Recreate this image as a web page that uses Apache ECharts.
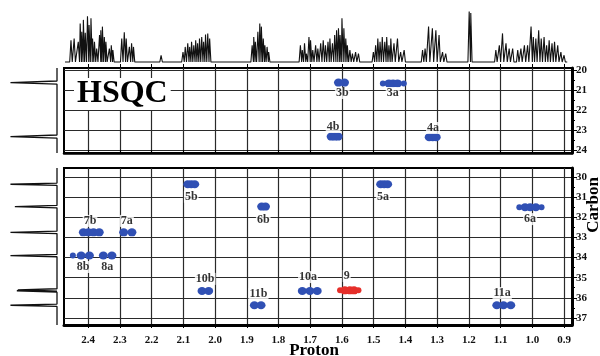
<!DOCTYPE html>
<html>
<head>
<meta charset="utf-8">
<script src="https://cdn.jsdelivr.net/npm/echarts@6/dist/echarts.min.js"></script>
<style>
  html, body { margin: 0; padding: 0; background: #fff; }
  #chart { width: 600px; height: 356px; }
</style>
</head>
<body>
<div id="chart"></div>
<script>
// tick labels
const protonTicks = [2.4, 2.3, 2.2, 2.1, 2.0, 1.9, 1.8, 1.7, 1.6, 1.5, 1.4, 1.3, 1.2, 1.1, 1.0, 0.9];
const carbonTicksTop = [20, 21, 22, 23, 24];
const carbonTicksBottom = [30, 31, 32, 33, 34, 35, 36, 37];
const carbonMinorTop = [20.5, 21.5, 22.5, 23.5];
const carbonMinorBottom = [30.5, 31.5, 32.5, 33.5, 34.5, 35.5, 36.5];

// 1D proton spectrum: [ppm, relative height]
const protonPeaks = [
  [2.454, 0.42], [2.444, 0.45], [2.431, 0.39], [2.425, 0.74], [2.420, 0.58], [2.415, 0.81],
  [2.409, 0.56], [2.402, 0.88], [2.397, 0.71], [2.391, 0.84], [2.386, 0.45], [2.380, 0.39],
  [2.373, 0.26], [2.364, 0.52], [2.360, 0.61], [2.355, 0.68], [2.349, 0.48], [2.344, 0.39],
  [2.333, 0.26], [2.327, 0.32], [2.322, 0.23], [2.294, 0.45], [2.286, 0.57], [2.280, 0.45],
  [2.270, 0.29], [2.263, 0.36], [2.257, 0.29], [2.170, 0.13], [2.101, 0.19], [2.094, 0.29],
  [2.086, 0.36], [2.080, 0.29], [2.074, 0.39], [2.067, 0.32], [2.061, 0.42], [2.055, 0.36],
  [2.049, 0.45], [2.042, 0.48], [2.036, 0.39], [2.030, 0.53], [2.023, 0.55], [2.017, 0.45],
  [1.883, 0.32], [1.878, 0.48], [1.873, 0.39], [1.865, 0.58], [1.859, 0.74], [1.854, 0.68],
  [1.848, 0.45], [1.843, 0.32], [1.836, 0.29], [1.831, 0.19],
  [1.731, 0.32], [1.725, 0.23], [1.718, 0.36], [1.712, 0.16], [1.704, 0.48], [1.699, 0.42],
  [1.692, 0.23], [1.683, 0.32], [1.676, 0.26], [1.667, 0.36], [1.659, 0.42], [1.652, 0.32],
  [1.644, 0.39], [1.638, 0.45], [1.630, 0.36], [1.623, 0.52], [1.617, 0.61], [1.611, 0.65],
  [1.606, 0.52], [1.600, 0.84], [1.594, 0.65], [1.588, 0.45], [1.583, 0.32], [1.575, 0.23],
  [1.567, 0.16], [1.557, 0.19], [1.548, 0.16],
  [1.501, 0.19], [1.494, 0.32], [1.487, 0.45], [1.480, 0.39], [1.473, 0.48], [1.465, 0.39],
  [1.459, 0.48], [1.452, 0.32], [1.446, 0.45], [1.436, 0.36], [1.425, 0.45], [1.415, 0.19],
  [1.404, 0.23],
  [1.346, 0.23], [1.338, 0.26], [1.327, 0.68], [1.315, 0.65], [1.304, 0.61], [1.294, 0.52],
  [1.283, 0.19], [1.273, 0.16],
  [1.199, 0.97], [1.194, 0.94],
  [1.115, 0.23], [1.104, 0.32], [1.094, 0.55], [1.083, 0.36], [1.073, 0.26], [1.062, 0.26],
  [1.046, 0.23], [1.036, 0.26], [1.025, 0.32], [1.015, 0.32], [1.004, 0.68], [0.997, 0.48],
  [0.989, 0.45], [0.980, 0.61], [0.972, 0.45], [0.963, 0.48], [0.955, 0.32], [0.947, 0.42],
  [0.938, 0.36], [0.930, 0.39], [0.920, 0.32], [0.910, 0.19], [0.900, 0.13]
];

// 1D carbon projection: [ppm, relative height]
const carbonPeaks = [
  [20.63, 0.95], [23.33, 0.95],
  [30.36, 0.95], [31.47, 0.86], [32.75, 0.95], [33.90, 0.95],
  [35.61, 0.80], [35.66, 0.82], [36.37, 0.95]
];

// cross peaks: [proton ppm, carbon ppm]
const blueDots = [
  [1.611, 20.63], [1.592, 20.63],
  [1.452, 20.67], [1.439, 20.67], [1.425, 20.67],
  [1.634, 23.33], [1.623, 23.33], [1.612, 23.33],
  [1.325, 23.36], [1.314, 23.36], [1.303, 23.36],
  [2.086, 30.36], [2.075, 30.36], [2.064, 30.36],
  [1.478, 30.36], [1.467, 30.36], [1.456, 30.36],
  [1.853, 31.47], [1.841, 31.47],
  [1.023, 31.50], [1.007, 31.50], [0.989, 31.50],
  [2.415, 32.75], [2.399, 32.75], [2.383, 32.75], [2.365, 32.75],
  [2.288, 32.75], [2.262, 32.75],
  [2.422, 33.90], [2.396, 33.90],
  [2.352, 33.90], [2.325, 33.90],
  [2.041, 35.66], [2.020, 35.66],
  [1.876, 36.37], [1.855, 36.37],
  [1.725, 35.66], [1.701, 35.66], [1.678, 35.66],
  [1.112, 36.37], [1.091, 36.37], [1.068, 36.37]
];
const blueSmallDots = [
  [1.471, 20.67], [1.405, 20.67], [1.041, 31.50], [0.971, 31.50], [2.448, 33.90]
];
const redDots = [[1.591, 35.63], [1.575, 35.63], [1.562, 35.63]];
const redSmallDots = [[1.606, 35.63], [1.548, 35.63]];

// assignments: [proton ppm, carbon ppm, text]
const peakLabels = [
  [1.599, 21.15, '3b'], [1.440, 21.15, '3a'], [1.628, 22.85, '4b'], [1.313, 22.90, '4a'],
  [2.075, 30.98, '5b'], [1.471, 30.98, '5a'], [1.848, 32.13, '6b'], [1.007, 32.09, '6a'],
  [2.394, 32.18, '7b'], [2.278, 32.18, '7a'], [2.416, 34.47, '8b'], [2.340, 34.47, '8a'],
  [2.031, 35.06, '10b'], [1.707, 34.97, '10a'], [1.585, 34.92, '9'],
  [1.863, 35.81, '11b'], [1.095, 35.76, '11a']
];

const serif = '"Liberation Serif", "DejaVu Serif", serif';
const blue = '#3050b4';
const red = '#e62f2a';

const isTop = p => p[1] < 27;
const isBottom = p => p[1] >= 27;

function spectrumLine(peaks, hw) {
  const pts = [[2.473, 0]];
  peaks.forEach(([pos, h]) => {
    pts.push([pos + hw, 0], [pos, h], [pos - hw, 0]);
  });
  pts.push([0.89, 0]);
  return pts;
}

function projectionLine(peaks, hw, from, to) {
  const pts = [[0, from]];
  peaks.filter(p => p[0] > from && p[0] < to).forEach(([pos, h]) => {
    pts.push([0, pos - hw], [h, pos], [0, pos + hw]);
  });
  pts.push([0, to]);
  return pts;
}

const chart = echarts.init(document.getElementById('chart'));

const gridLine = { show: true, lineStyle: { color: '#2a2a2a', width: 1.2 } };
const tickFont = { fontFamily: serif, fontWeight: 'bold', fontSize: 11, color: '#111' };

const protonRange = { min: 0.875, max: 2.476, inverse: true };
const topRange = { min: 19.9, max: 24.15, inverse: true };
const bottomRange = { min: 29.553, max: 37.35, inverse: true };

function dotSeries(data, xi, yi, color, size) {
  return {
    type: 'scatter', xAxisIndex: xi, yAxisIndex: yi, data: data,
    symbol: 'circle', symbolSize: size, clip: false, silent: true,
    itemStyle: { color: color, opacity: 1 }, z: 5
  };
}

function labelSeries(data, xi, yi) {
  return {
    type: 'scatter', xAxisIndex: xi, yAxisIndex: yi, data: data,
    symbolSize: 0, clip: false, silent: true, z: 6,
    label: {
      show: true, position: 'inside', formatter: p => p.value[2],
      fontFamily: serif, fontWeight: 'bold', fontSize: 12, color: '#000',
      backgroundColor: '#fff', padding: [0, 1], lineHeight: 12
    }
  };
}

chart.setOption({
  animation: false,
  backgroundColor: '#fff',
  grid: [
    { left: 64, right: 28, top: 10, height: 52 },
    { left: 64, right: 28, top: 68, height: 85, show: true, borderColor: '#000', borderWidth: 2 },
    { left: 64, right: 28, top: 168, height: 157, show: true, borderColor: '#000', borderWidth: 2 },
    { left: 8, width: 49, top: 68, height: 85 },
    { left: 8, width: 49, top: 168, height: 157 }
  ],
  xAxis: [
    Object.assign({ type: 'value', gridIndex: 0, show: false }, protonRange),
    Object.assign({
      type: 'value', gridIndex: 1, position: 'bottom', splitNumber: 16,
      axisLine: { show: true, lineStyle: { color: '#000', width: 2.5 } },
      axisTick: { show: true, inside: true, length: 3, customValues: protonTicks },
      axisLabel: { show: false, customValues: protonTicks },
      splitLine: gridLine
    }, protonRange),
    Object.assign({
      type: 'value', gridIndex: 1, position: 'top',
      axisLine: { show: false },
      axisTick: { show: true, length: 4, customValues: protonTicks, lineStyle: { color: '#000' } },
      axisLabel: { show: false }, splitLine: { show: false }
    }, protonRange),
    Object.assign({
      type: 'value', gridIndex: 2, position: 'bottom', splitNumber: 16,
      axisLine: { show: true, lineStyle: { color: '#000', width: 3 } },
      axisTick: { show: true, length: 3, customValues: protonTicks, lineStyle: { color: '#000' } },
      axisLabel: Object.assign({ customValues: protonTicks, margin: 10, formatter: v => v.toFixed(1) }, tickFont),
      splitLine: gridLine
    }, protonRange),
    { type: 'value', gridIndex: 3, show: false, min: 0, max: 1, inverse: true },
    { type: 'value', gridIndex: 4, show: false, min: 0, max: 1, inverse: true }
  ],
  yAxis: [
    { type: 'value', gridIndex: 0, show: false, min: 0, max: 1 },
    Object.assign({
      type: 'value', gridIndex: 1, position: 'right', splitNumber: 4,
      axisLine: { show: true, lineStyle: { color: '#000', width: 3 } },
      axisTick: { show: true, length: 5, customValues: carbonTicksTop, lineStyle: { color: '#000' } },
      axisLabel: Object.assign({ customValues: carbonTicksTop, margin: 4 }, tickFont),
      splitLine: gridLine
    }, topRange),
    Object.assign({
      type: 'value', gridIndex: 1, position: 'right',
      axisLine: { show: false },
      axisTick: { show: true, length: 3, customValues: carbonMinorTop, lineStyle: { color: '#000' } },
      axisLabel: { show: false }, splitLine: { show: false }
    }, topRange),
    Object.assign({
      type: 'value', gridIndex: 2, position: 'right', splitNumber: 8,
      axisLine: { show: true, lineStyle: { color: '#000', width: 3 } },
      axisTick: { show: true, length: 5, customValues: carbonTicksBottom, lineStyle: { color: '#000' } },
      axisLabel: Object.assign({ customValues: carbonTicksBottom, margin: 4 }, tickFont),
      splitLine: gridLine
    }, bottomRange),
    Object.assign({
      type: 'value', gridIndex: 2, position: 'right',
      axisLine: { show: false },
      axisTick: { show: true, length: 3, customValues: carbonMinorBottom, lineStyle: { color: '#000' } },
      axisLabel: { show: false }, splitLine: { show: false }
    }, bottomRange),
    Object.assign({ type: 'value', gridIndex: 3, show: false }, topRange),
    Object.assign({ type: 'value', gridIndex: 4, show: false }, bottomRange)
  ],
  series: [
    {
      type: 'line', xAxisIndex: 0, yAxisIndex: 0, data: spectrumLine(protonPeaks, 0.004),
      showSymbol: false, clip: false, silent: true,
      lineStyle: { color: '#111', width: 1.1 }
    },
    {
      type: 'line', xAxisIndex: 4, yAxisIndex: 5, data: projectionLine(carbonPeaks, 0.08, 19.9, 24.15),
      showSymbol: false, clip: false, silent: true,
      lineStyle: { color: '#111', width: 1.3 }
    },
    {
      type: 'line', xAxisIndex: 5, yAxisIndex: 6, data: projectionLine(carbonPeaks, 0.06, 29.553, 37.35),
      showSymbol: false, clip: false, silent: true,
      lineStyle: { color: '#111', width: 1.3 }
    },
    dotSeries(blueDots.filter(isTop), 1, 1, blue, [9, 8]),
    dotSeries(blueSmallDots.filter(isTop), 1, 1, blue, [6, 6]),
    dotSeries(blueDots.filter(isBottom), 3, 3, blue, [9, 8]),
    dotSeries(blueSmallDots.filter(isBottom), 3, 3, blue, [6, 6]),
    dotSeries(redDots, 3, 3, red, [9, 8]),
    dotSeries(redSmallDots, 3, 3, red, [6, 6]),
    labelSeries(peakLabels.filter(isTop), 1, 1),
    labelSeries(peakLabels.filter(isBottom), 3, 3)
  ],
  graphic: [
    {
      type: 'text', left: 74, top: 78, z: 10,
      style: {
        text: 'HSQC', fontFamily: serif, fontWeight: 'bold', fontSize: 32, fill: '#000',
        backgroundColor: '#fff', padding: [0, 3]
      }
    },
    {
      type: 'text', x: 314, y: 351, z: 10,
      style: {
        text: 'Proton', fontFamily: serif, fontWeight: 'bold', fontSize: 17, fill: '#000',
        align: 'center', verticalAlign: 'middle'
      }
    },
    {
      type: 'text', x: 594, y: 205, rotation: Math.PI / 2, z: 10,
      style: {
        text: 'Carbon', fontFamily: serif, fontWeight: 'bold', fontSize: 17, fill: '#000',
        align: 'center', verticalAlign: 'middle'
      }
    }
  ]
});

window.addEventListener('resize', () => chart.resize());
</script>
</body>
</html>
